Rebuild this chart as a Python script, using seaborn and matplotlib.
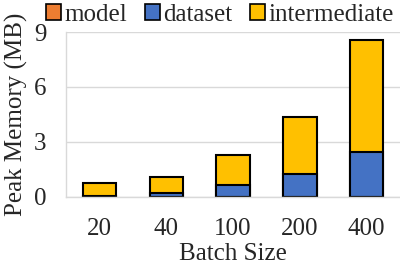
import numpy as np
import pandas as pd
import matplotlib
matplotlib.use("Agg")
import matplotlib.pyplot as plt
import seaborn as sns
from matplotlib.patches import Patch

# data (MB)
batch_sizes = ["20", "40", "100", "200", "400"]
model = [0.01, 0.01, 0.01, 0.01, 0.01]
dataset = [0.05, 0.23, 0.64, 1.24, 2.46]
intermediate = [0.70, 0.83, 1.65, 3.13, 6.09]

colors = {"model": "#ED7D31", "dataset": "#4472C4", "intermediate": "#FFC000"}

sns.set_style("white")
plt.rcParams["font.family"] = ["Liberation Serif", "DejaVu Serif"]
plt.rcParams["font.size"] = 18

df = pd.DataFrame({"batch": batch_sizes, "model": model,
                   "dataset": dataset, "intermediate": intermediate})
df["top_int"] = df["model"] + df["dataset"] + df["intermediate"]
df["top_data"] = df["model"] + df["dataset"]

fig = plt.figure(figsize=(4.0, 2.69), dpi=100)
ax = fig.add_axes([0.165, 0.268, 0.835, 0.613])

# stacked bars: draw cumulative heights from the tallest down
for col, key in [("top_int", "intermediate"), ("top_data", "dataset"), ("model", "model")]:
    sns.barplot(data=df, x="batch", y=col, color=colors[key], width=0.5,
                edgecolor="black", linewidth=1.5, saturation=1, ax=ax)

ax.set_ylim(0, 9)
ax.set_yticks([0, 3, 6, 9])
ax.set_xlim(-0.5, 4.3)
ax.yaxis.grid(True, color="#d9d9d9", linewidth=1)
ax.set_axisbelow(True)
for s in ["top", "right"]:
    ax.spines[s].set_visible(False)
for s in ["left", "bottom"]:
    ax.spines[s].set_color("#d9d9d9")
    ax.spines[s].set_linewidth(1)

# tick marks between categories
ax.set_xticks(np.arange(-0.5, 5, 1), minor=True)
ax.tick_params(axis="x", which="major", length=0, pad=15)
ax.tick_params(axis="x", which="minor", length=5, color="#d9d9d9", direction="out")
ax.tick_params(axis="y", length=4, color="#d9d9d9", pad=10)

ax.set_xlabel("Batch Size", labelpad=2)
ax.set_ylabel("Peak Memory (MB)", labelpad=4)

handles = [Patch(facecolor=colors[k], edgecolor="black", linewidth=1.2, label=k)
           for k in ["model", "dataset", "intermediate"]]
fig.legend(handles=handles, loc="upper center", bbox_to_anchor=(0.55, 1.07), ncol=3,
           frameon=False, handlelength=0.6, handleheight=0.6, handletextpad=0.15,
           columnspacing=0.7)

fig.savefig("out.png", dpi=100)
